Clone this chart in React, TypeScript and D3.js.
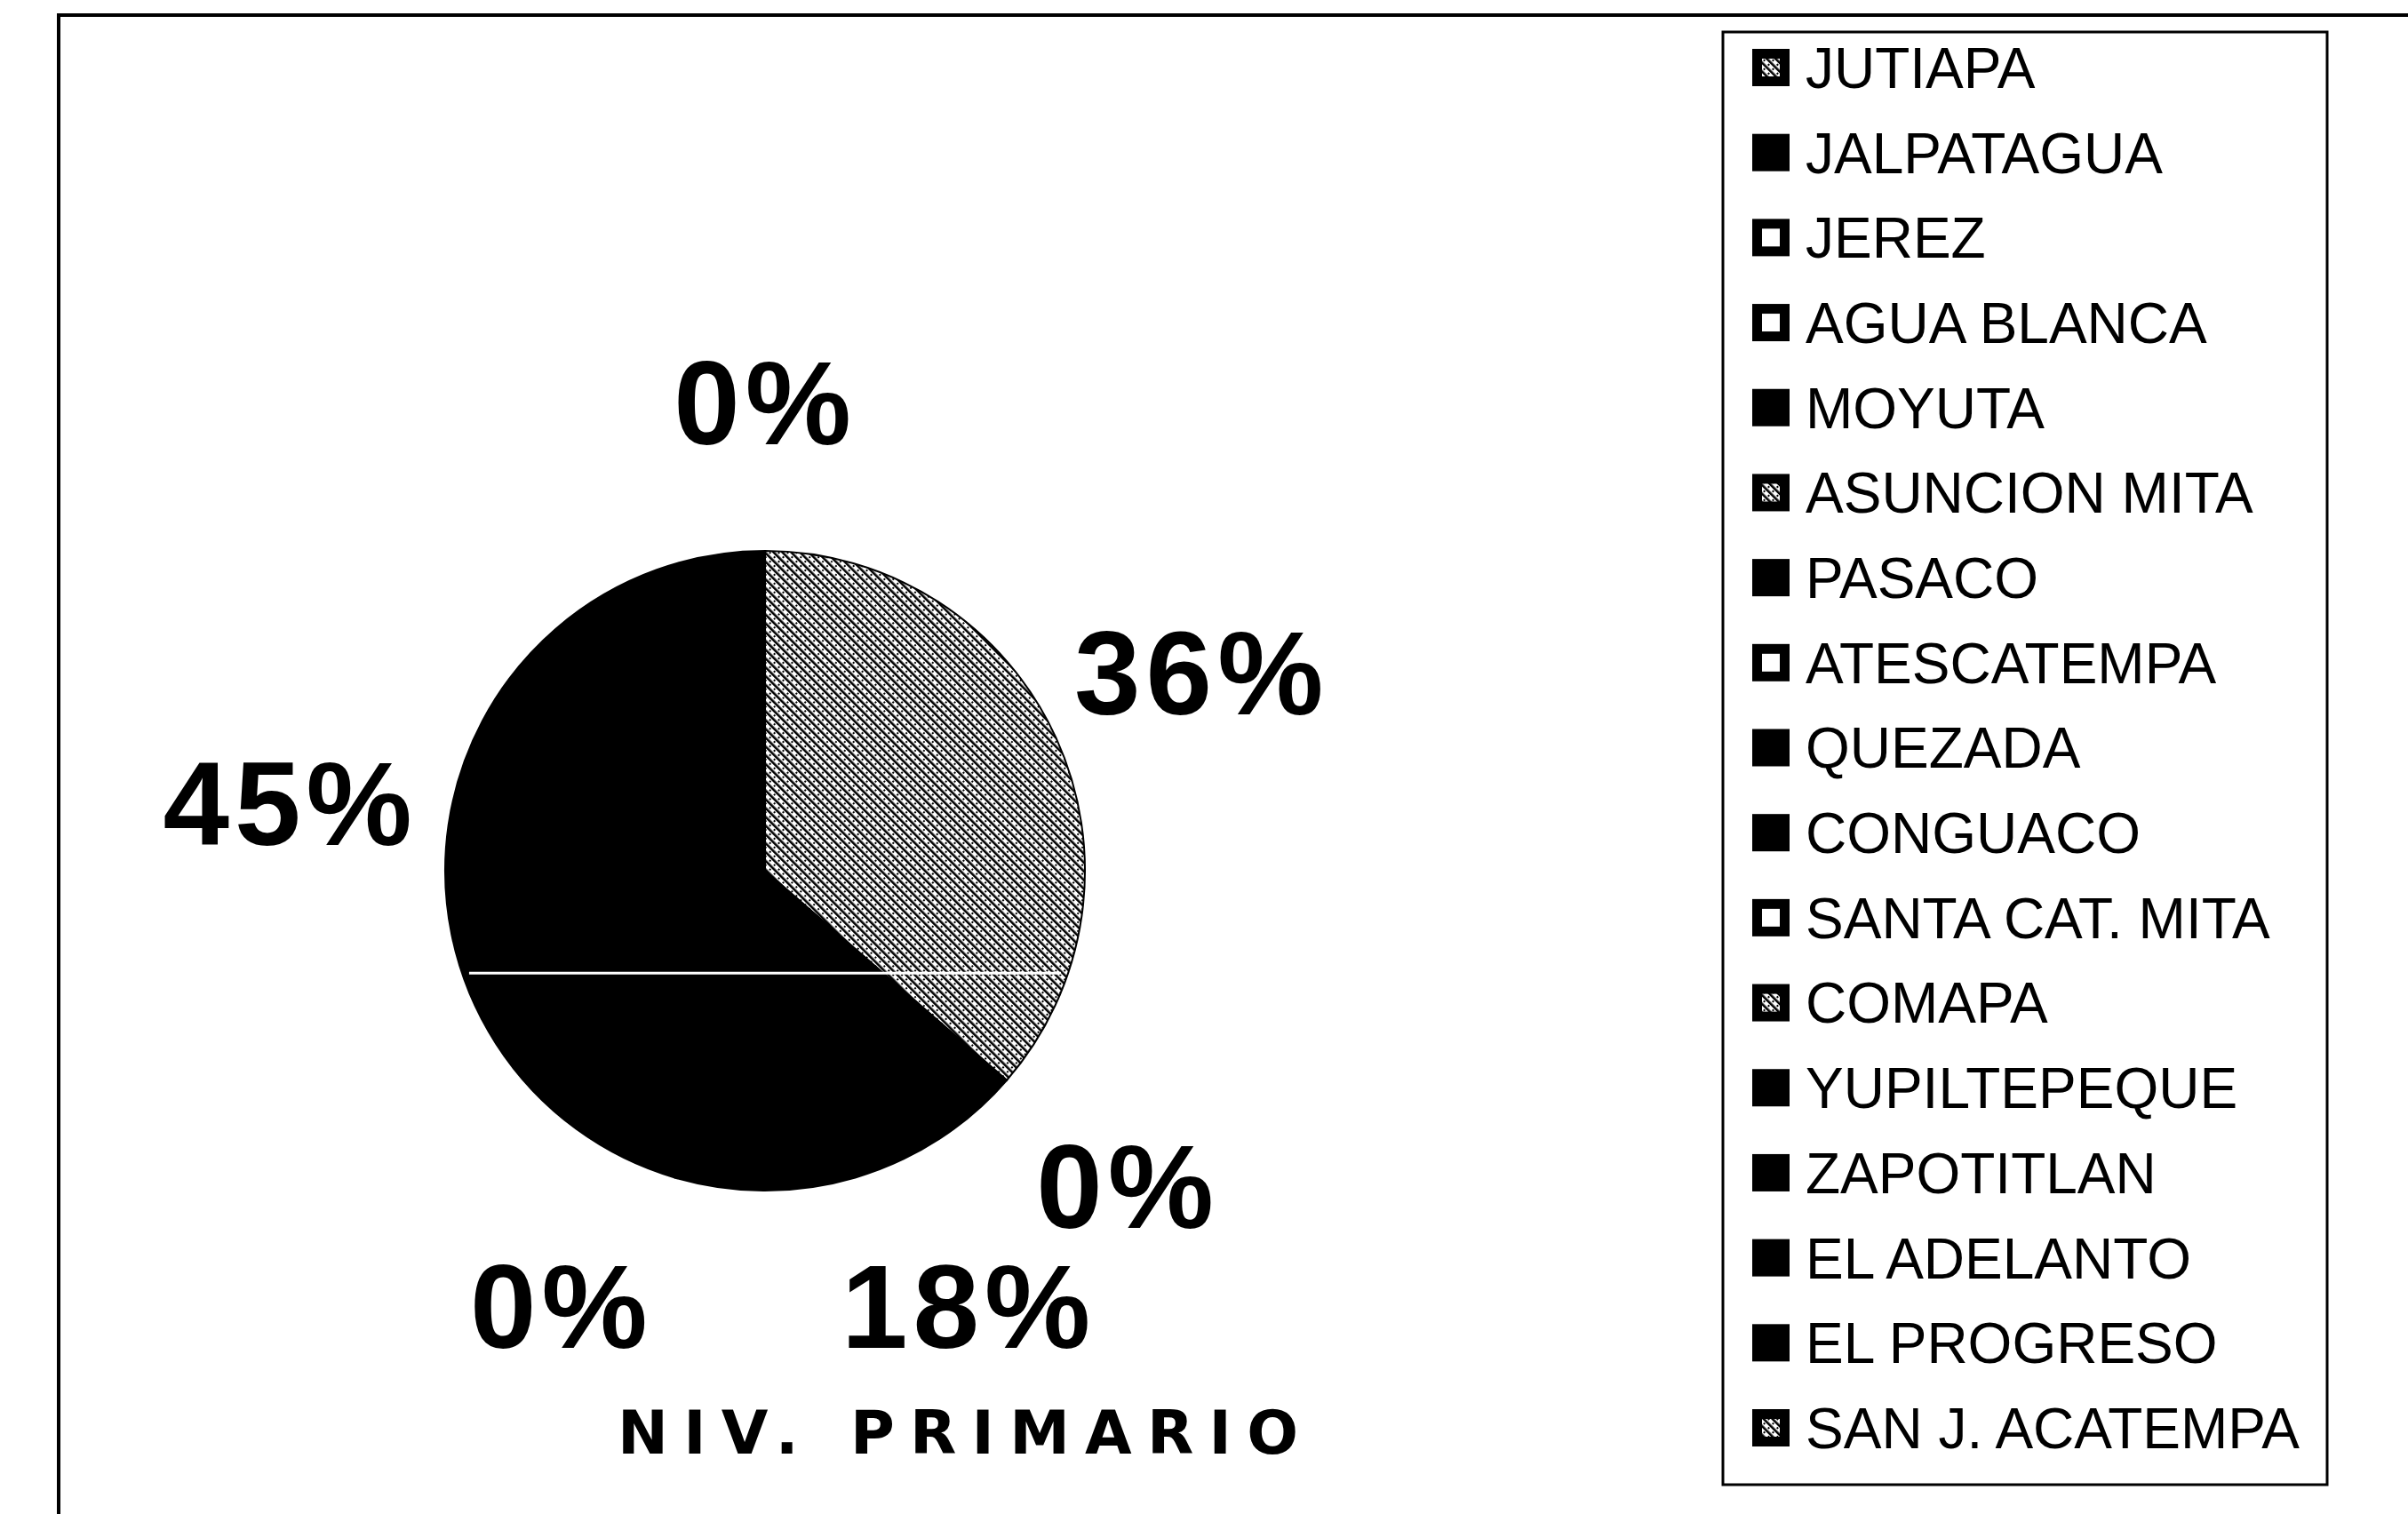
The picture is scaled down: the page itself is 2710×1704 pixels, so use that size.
import React, { useMemo } from "react";
import * as d3 from "d3";

// municipios del departamento, en el orden de la leyenda
const categories = [
  "JUTIAPA",
  "JALPATAGUA",
  "JEREZ",
  "AGUA BLANCA",
  "MOYUTA",
  "ASUNCION MITA",
  "PASACO",
  "ATESCATEMPA",
  "QUEZADA",
  "CONGUACO",
  "SANTA CAT. MITA",
  "COMAPA",
  "YUPILTEPEQUE",
  "ZAPOTITLAN",
  "EL ADELANTO",
  "EL PROGRESO",
  "SAN J. ACATEMPA",
];

// nivel primario (conteos: 4/11, 2/11, 5/11)
const values = [4, 0, 0, 0, 2, 0, 0, 0, 5, 0, 0, 0, 0, 0, 0, 0, 0];

// tipo de relleno de cada muestra de la leyenda
const swatchKinds = [
  "hatch", "solid", "hollow", "hollow", "solid", "hatch", "solid", "hollow",
  "solid", "solid", "hollow", "hatch", "solid", "solid", "solid", "solid", "hatch",
];

const title = "NIV. PRIMARIO";

const W = 2710;
const H = 1704;
const cx = 861;
const cy = 980;
const radius = 360;
const labelR = 540;
const labelMinDy = -528;
const labelMaxDy = 489;
const labelSize = 134;
const legendFont = 64;

const fillFor = (kind: string) =>
  kind === "hatch" ? "url(#hatch)" : kind === "hollow" ? "#fff" : "#000";

const App = () => {
  const total = d3.sum(values);
  const pct = d3.format(".0%");

  const arcs = useMemo(
    () =>
      d3
        .pie<number>()
        .sort(null)
        .value((d) => d)(values),
    []
  );

  const arcGen = d3.arc<d3.PieArcDatum<number>>().innerRadius(0).outerRadius(radius);

  // etiquetas: una por posicion (los 0% se apilan en el mismo lugar)
  const labels = useMemo(() => {
    const seen = new Set<string>();
    const out: { x: number; y: number; text: string }[] = [];
    arcs.forEach((a) => {
      const ang = (a.startAngle + a.endAngle) / 2;
      let dx = labelR * Math.sin(ang);
      let dy = -labelR * Math.cos(ang);
      if (dy > labelMaxDy) {
        // se desliza sobre el circulo para no salir del area
        dy = labelMaxDy;
        dx = Math.sign(dx) * Math.sqrt(labelR * labelR - dy * dy);
      }
      if (dy < labelMinDy) dy = labelMinDy;
      if (Math.abs(dx) < 1e-6) dx = 0;
      const key = `${Math.round(dx)}_${Math.round(dy)}`;
      if (seen.has(key)) return;
      seen.add(key);
      out.push({ x: cx + dx, y: cy + dy, text: pct(a.data / total) });
    });
    return out;
  }, [arcs, total]);

  const rowY = d3.scalePoint<string>().domain(categories).range([76, 1607]);

  const chordDy = radius * 0.32;
  const chordHalf = Math.sqrt(radius * radius - chordDy * chordDy) - 8;

  return (
    <svg
      width={W}
      height={H}
      style={{ position: "absolute", left: 0, top: 0, background: "#fff" }}
      fontFamily="'Liberation Sans', Arial, sans-serif"
    >
      <defs>
        <pattern
          id="hatch"
          width="7"
          height="7"
          patternUnits="userSpaceOnUse"
          patternTransform="rotate(-45)"
        >
          <rect width="7" height="7" fill="#fff" />
          <rect width="2.6" height="7" fill="#000" />
          <rect x="4" y="2" width="2" height="2" fill="#000" />
        </pattern>
      </defs>
      <rect width={W} height={H} fill="#fff" />

      {/* marco exterior (solo se ven el borde superior e izquierdo) */}
      <path d={`M66,${H} L66,17 L${W},17`} fill="none" stroke="#000" strokeWidth={4} />

      {/* pastel */}
      <g transform={`translate(${cx},${cy})`}>
        {arcs
          .filter((a) => a.endAngle > a.startAngle)
          .map((a, i) => (
            <path
              key={i}
              d={arcGen(a) || ""}
              fill={fillFor(swatchKinds[a.index])}
              stroke="#000"
              strokeWidth={2}
            />
          ))}
        <line
          x1={-chordHalf}
          x2={chordHalf}
          y1={chordDy}
          y2={chordDy}
          stroke="#fff"
          strokeWidth={3}
        />
      </g>

      {labels.map((l, i) => (
        <text
          key={i}
          x={l.x}
          y={l.y + labelSize * 0.358}
          textAnchor="middle"
          fontSize={labelSize}
          fontWeight="bold"
          letterSpacing={6}
        >
          {l.text}
        </text>
      ))}

      <text
        x={695}
        y={1636}
        fontFamily="'DejaVu Sans', sans-serif"
        fontWeight="bold"
        fontSize={68}
        textLength={766}
        lengthAdjust="spacing"
      >
        {title}
      </text>

      {/* leyenda */}
      <rect x={1939} y={36} width={680} height={1635} fill="none" stroke="#000" strokeWidth={3} />
      {categories.map((c, i) => {
        const y = rowY(c) as number;
        const kind = swatchKinds[i];
        return (
          <g key={c}>
            <rect x={1972} y={y - 21} width={42} height={42} fill="#000" />
            {kind !== "solid" && (
              <rect
                x={1983}
                y={y - 10}
                width={20}
                height={20}
                fill={kind === "hatch" ? "url(#hatch)" : "#fff"}
              />
            )}
            <text x={2032} y={y + legendFont * 0.358} fontSize={legendFont}>
              {c}
            </text>
          </g>
        );
      })}
    </svg>
  );
};

export default App;
